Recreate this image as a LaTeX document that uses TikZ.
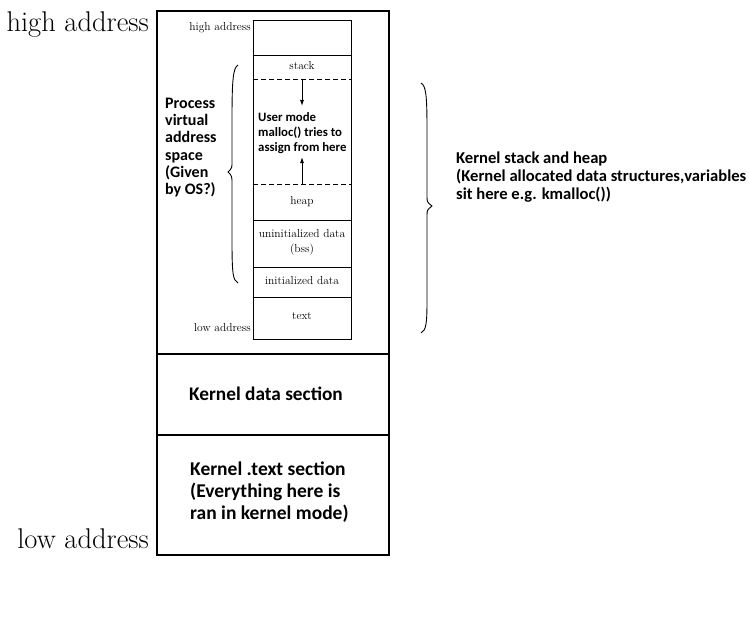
\documentclass[tikz,border=0pt]{standalone}
\usepackage{fontspec}
\newfontfamily\carl{Carlito}
\usetikzlibrary{arrows.meta}
\begin{document}
\begin{tikzpicture}[x=1pt,y=-1pt,
  sans/.style 2 args={font=\carl\bfseries\fontsize{#1}{#2}\selectfont, inner sep=0pt, anchor=base west},
  ser/.style={font=\fontsize{#1}{#1}\selectfont, inner sep=0pt},
  seg/.style={line width=0.9pt},
  arr/.style={line width=0.9pt,-{Latex[length=6pt,width=4pt]}}]
\useasboundingbox (0,0) rectangle (749,623);
% outer box
\draw[line width=1.2pt] (157,11) rectangle (389,555);
\draw[line width=1.6pt] (157,354) -- (389,354);
\draw[line width=1.6pt] (157,435) -- (389,435);
% inner box
\draw[seg] (253,20) rectangle (351,339);
\draw[seg] (253,55) -- (351,55);
\draw[seg,dash pattern=on 5pt off 3pt] (253,79) -- (351,79);
\draw[seg,dash pattern=on 5pt off 3pt] (253,184) -- (351,184);
\draw[seg] (253,220) -- (351,220);
\draw[seg] (253,267) -- (351,267);
\draw[seg] (253,297) -- (351,297);
% arrows
\coordinate (a1) at (302,79); \coordinate (a2) at (302,106);
\coordinate (b1) at (302,184); \coordinate (b2) at (302,157);
\draw[arr] (a1) -- (a2);
\draw[arr] (b1) -- (b2);
% big labels
\node[ser=28.5, anchor=base east] (hi) at (149,31.5) {high address};
\node[ser=28.5, anchor=base east] (lo) at (149,548) {low address};
% small labels
\node[ser=11.5, anchor=east] (shi) at (251,28) {high address};
\node[ser=11.5, anchor=east] (slo) at (251,328) {low address};
\node[ser=11.5] (stk) at (302,66) {stack};
\node[ser=11.5] (hp) at (302,202) {heap};
\node[ser=11.5] (un) at (302,234) {uninitialized data};
\node[ser=11.5] (bss) at (302,250) {(bss)};
\node[ser=11.5] (ini) at (302,281) {initialized data};
\node[ser=11.5] (txt) at (302,316) {text};
% user mode (base anchor = last line)
\node[sans={12.8}{15}, align=left] (um) at (258,151)
  {User mode\\malloc() tries to\\assign from here};
% process
\node[sans={16}{17.2}, align=left] (pv) at (165,194.5)
  {Process\\virtual\\address\\space\\(Given\\by OS?)};
% kernel
\node[sans={16.6}{18}, align=left] (ks) at (456,199)
  {Kernel stack and heap\\(Kernel allocated data structures,variables\\sit here e.g. kmalloc())};
\node[sans={19.3}{22}] (kd) at (189,400.5) {Kernel data section};
\node[sans={19.5}{22.3}, align=left] (kt) at (190,519.6)
  {Kernel .text section\\(Everything here is\\ran in kernel mode)};
% braces
\draw[line width=0.9pt] (238,65) .. controls (233,68) and (232,80) .. (232,120) -- (232,162)
  .. controls (232,168) .. (228,172) .. controls (232,176) .. (232,184) -- (232,240)
  .. controls (232,275) and (233,280) .. (238,283);
\draw[line width=0.9pt] (421,83) .. controls (426,86) and (427,95) .. (427,130) -- (427,196)
  .. controls (427,202) .. (432,206) .. controls (427,210) .. (427,216) -- (427,300)
  .. controls (427,325) and (426,330) .. (421,333);
\end{tikzpicture}
\end{document}
